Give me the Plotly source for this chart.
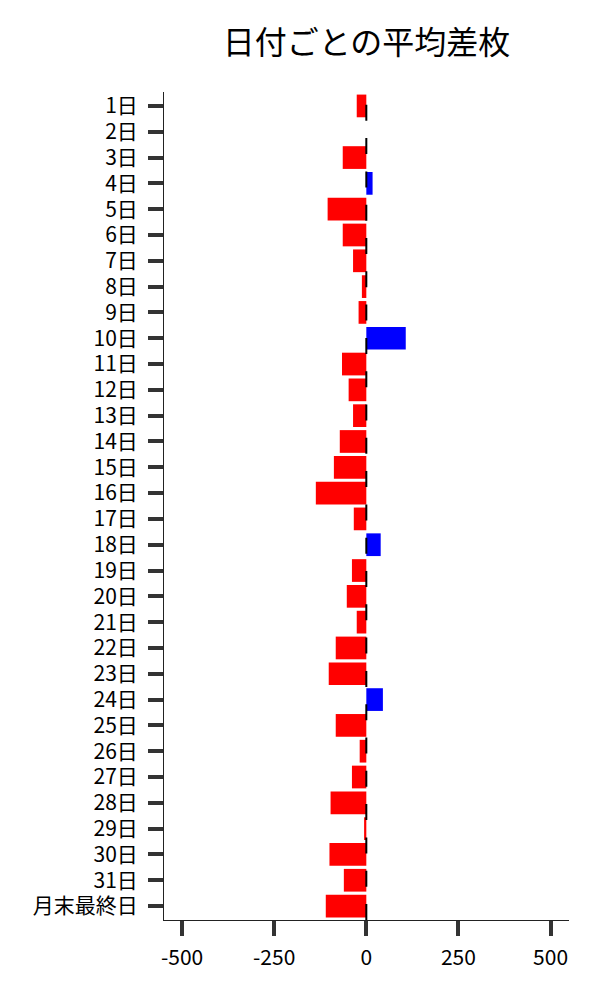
import plotly.graph_objects as go

# 日付ごとの平均差枚
days = [f"{d}日" for d in range(1, 32)] + ["月末最終日"]
avg_diff = [-26, 0, -64, 17, -105, -64, -36, -12, -21, 107,
            -66, -48, -36, -72, -88, -137, -34, 39, -39, -53,
            -26, -83, -102, 45, -83, -18, -39, -97, -6, -100,
            -61, -110]
x_ticks = [-500, -250, 0, 250, 500]

font = "Noto Sans CJK JP"
colors = ["blue" if v > 0 else "red" for v in avg_diff]

# page body has an 8px margin, so the figure is 592x992
W, H = 592, 992

fig = go.Figure()
fig.add_bar(x=avg_diff, y=days, orientation="h", marker_color=colors,
            marker_line_width=0)

# zero line, dashed, drawn bottom -> top
fig.add_shape(type="line", xref="x", yref="paper", x0=0, x1=0, y0=0, y1=1,
              line=dict(color="black", width=2, dash="16px,17.3px"),
              layer="above")

fig.update_layout(
    width=W, height=H,
    paper_bgcolor="white", plot_bgcolor="white",
    margin=dict(l=156, r=31, t=84, b=80),
    showlegend=False,
    bargap=0.12,
    font=dict(family=font, size=21, color="black"),
    title=dict(text="日付ごとの平均差枚", x=358.5 / W, xanchor="center",
               y=1 - 35 / H, yanchor="middle",
               font=dict(family=font, size=32, color="black")),
)
fig.update_xaxes(range=[-549, 550], tickvals=x_ticks, ticktext=[str(v) for v in x_ticks],
                 showgrid=False, zeroline=False,
                 showline=True, linecolor="#222", linewidth=1,
                 ticks="outside", ticklen=15, tickwidth=4, tickcolor="#333",
                 ticklabelstandoff=4, tickfont=dict(size=21))
fig.update_yaxes(categoryorder="array", categoryarray=days, range=[31.54, -0.54],
                 showgrid=False, zeroline=False,
                 showline=True, linecolor="#222", linewidth=1,
                 ticks="outside", ticklen=15, tickwidth=4, tickcolor="#333",
                 ticklabelstandoff=6, tickfont=dict(size=21))

fig.write_html("out.html")
